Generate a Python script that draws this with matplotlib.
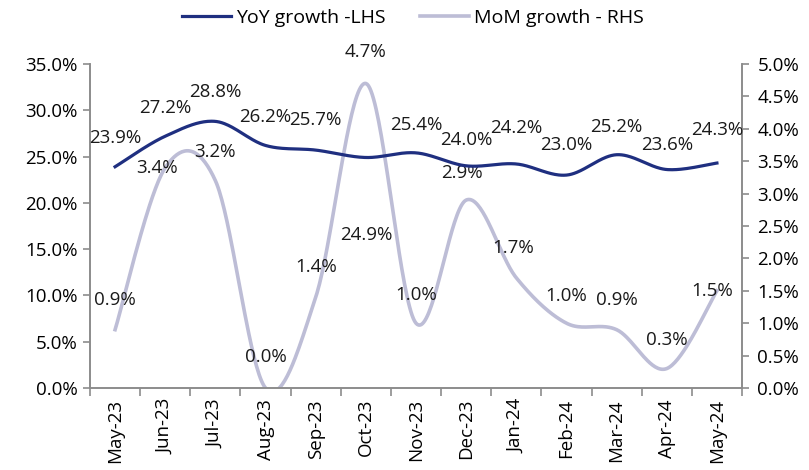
import numpy as np
import matplotlib
matplotlib.use("Agg")
import matplotlib.pyplot as plt
from matplotlib.ticker import FuncFormatter, FixedLocator

plt.rcParams['font.family'] = ['Open Sans', 'DejaVu Sans']

# data
months = ['May-23', 'Jun-23', 'Jul-23', 'Aug-23', 'Sep-23', 'Oct-23', 'Nov-23',
          'Dec-23', 'Jan-24', 'Feb-24', 'Mar-24', 'Apr-24', 'May-24']
yoy = [23.9, 27.2, 28.8, 26.2, 25.7, 24.9, 25.4, 24.0, 24.2, 23.0, 25.2, 23.6, 24.3]
mom = [0.9, 3.4, 3.2, 0.0, 1.4, 4.7, 1.0, 2.9, 1.7, 1.0, 0.9, 0.3, 1.5]

# label offsets in pixels (dx, dy up)
yoy_off = [(0, 29), (0, 28), (0, 29), (0, 28), (0, 30), (0, -78), (0, 28),
           (0, 26), (0, 36), (0, 30), (0, 28), (0, 25), (0, 33)]
mom_off = [(0, 30), (-8, 0), (0, 29), (0, 31), (0, 30), (0, 31), (0, 28),
           (-4, 27), (-3, 30), (0, 27), (0, 30), (0, 29), (-5, 0)]

navy = '#1f2f80'
lav = '#bdbdd6'
grey = '#8c8c8c'


def smooth(y, n=40):
    # excel-like smoothed line (catmull-rom bezier)
    y = np.asarray(y, float)
    x = np.arange(len(y), dtype=float)
    P = np.column_stack([x, y])
    Pp = np.vstack([P[0], P, P[-1]])
    xs, ys = [], []
    t = np.linspace(0, 1, n)[:, None]
    for i in range(len(P) - 1):
        p0, p1, p2, p3 = Pp[i], Pp[i + 1], Pp[i + 2], Pp[i + 3]
        b1 = p1 + (p2 - p0) / 6
        b2 = p2 - (p3 - p1) / 6
        c = ((1 - t) ** 3) * p1 + 3 * ((1 - t) ** 2) * t * b1 + 3 * (1 - t) * t ** 2 * b2 + t ** 3 * p2
        xs.append(c[:, 0]); ys.append(c[:, 1])
    return np.concatenate(xs), np.concatenate(ys)


fig = plt.figure(figsize=(8.09, 4.70), dpi=100)
ax = fig.add_axes([90 / 809, 1 - 388 / 470, (742 - 90) / 809, (388 - 64) / 470])
ax2 = ax.twinx()

x = np.arange(len(months))
sx, sy = smooth(yoy)
l1, = ax.plot(sx, sy, color=navy, lw=2.3, label='YoY growth -LHS', zorder=3)
sx, sy = smooth(mom)
l2, = ax2.plot(sx, sy, color=lav, lw=2.6, label='MoM growth - RHS', zorder=2)
ax.set_zorder(ax2.get_zorder() + 1)
ax.patch.set_visible(False)

ax.set_xlim(-0.5, len(months) - 0.5)
ax.set_ylim(0, 35)
ax2.set_ylim(0, 5)
ax.set_yticks(np.arange(0, 35.1, 5))
ax2.set_yticks(np.arange(0, 5.01, 0.5))
pct = FuncFormatter(lambda v, p: f'{v:.1f}%')
ax.yaxis.set_major_formatter(pct)
ax2.yaxis.set_major_formatter(pct)

ax.set_xticks(x)
ax.set_xticklabels(months, rotation=90, fontsize=13.5)
ax.tick_params(axis='x', which='major', length=0, pad=8)
ax.xaxis.set_minor_locator(FixedLocator(np.arange(-0.5, len(months), 1)))
ax.tick_params(axis='x', which='minor', length=6, color=grey, width=1.2)

ax.tick_params(axis='y', labelsize=13.5, length=5, color=grey, width=1.2, pad=4)
ax2.tick_params(axis='y', labelsize=13.5, length=5, color=grey, width=1.2, pad=6)

for a in (ax, ax2):
    for s in a.spines.values():
        s.set_color(grey)
        s.set_linewidth(1.2)
    a.spines['top'].set_visible(False)

pt = 72 / 100
for i in range(len(months)):
    dx, dy = yoy_off[i]
    ax.annotate(f'{yoy[i]:.1f}%', (x[i], yoy[i]), xytext=(dx * pt, dy * pt),
                textcoords='offset points', ha='center', va='center',
                fontsize=13.5, color='#1a1a1a', zorder=5, annotation_clip=False)
    dx, dy = mom_off[i]
    ax2.annotate(f'{mom[i]:.1f}%', (x[i], mom[i]), xytext=(dx * pt, dy * pt),
                 textcoords='offset points', ha='center', va='center',
                 fontsize=13.5, color='#1a1a1a', zorder=5, annotation_clip=False)

fig.legend(handles=[l1, l2], loc='center', bbox_to_anchor=(413 / 809, 1 - 18 / 470),
           ncol=2, frameon=False, fontsize=14, handlelength=2.5,
           handletextpad=0.25, columnspacing=1.8)

fig.savefig('out.png', dpi=100)
